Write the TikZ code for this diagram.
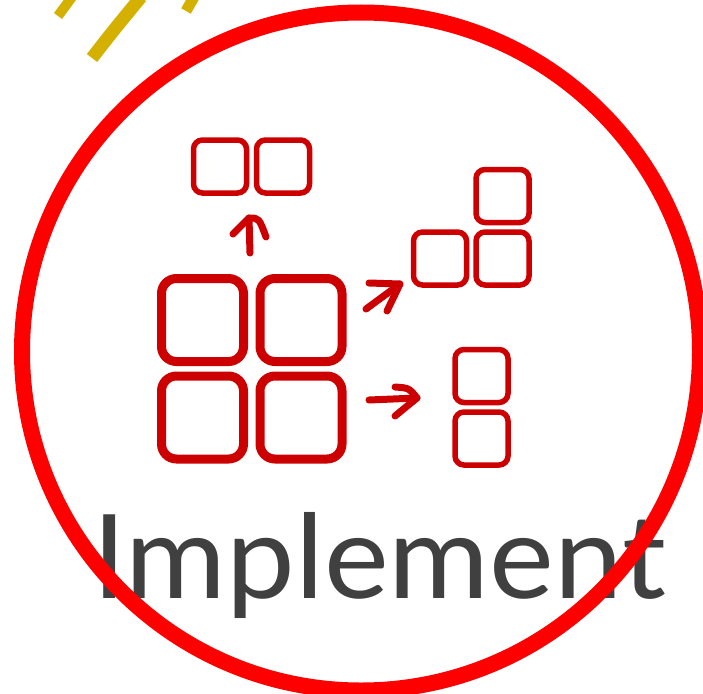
\documentclass[tikz,border=0pt]{standalone}
\usepackage{fontspec}
\usetikzlibrary{calc}
\definecolor{ringred}{RGB}{255,0,0}
\definecolor{boxred}{RGB}{204,0,0}
\definecolor{goldink}{RGB}{212,176,0}
\definecolor{ink}{RGB}{64,64,64}
\newfontfamily\handfont{Lato}
\begin{document}
\begin{tikzpicture}[x=1pt,y=-1pt,
  bigbox/.style={draw=boxred, line width=9pt, rounded corners=15pt, minimum width=82pt, minimum height=83pt, inner sep=0pt},
  smallbox/.style={draw=boxred, line width=5.5pt, rounded corners=9pt, minimum width=53pt, minimum height=53pt, inner sep=0pt},
  arrowline/.style={draw=boxred, line width=7pt, line cap=round, line join=round},
  goldstroke/.style={draw=goldink, line cap=butt},
  ring/.style={draw=ringred, line width=16pt}
]
\useasboundingbox (0,0) rectangle (703,693);

% yellow strokes
\draw[goldstroke, line width=10pt] (58,16) -- (72,-3);
\draw[goldstroke, line width=13pt] (92,58) .. controls (113,31) .. (141,-3);
\draw[goldstroke, line width=11pt] (186,11) -- (194,-3);

% big boxes
\node[bigbox] (b11) at (202.5,320) {};
\node[bigbox] (b12) at (301,320) {};
\node[bigbox] (b21) at (202.5,417.5) {};
\node[bigbox] (b22) at (301,417.5) {};

% top pair
\node[smallbox] (t1) at (220,166.5) {};
\node[smallbox] (t2) at (283,166.5) {};

% right L group
\node[smallbox] (r0) at (502.5,196) {};
\node[smallbox] (r1) at (440,258.5) {};
\node[smallbox] (r2) at (502.5,258.5) {};

% lower right column
\node[smallbox] (c1) at (481.5,376) {};
\node[smallbox] (c2) at (481.5,438.5) {};

% arrows
\coordinate (upA) at (250,253);
\coordinate (upB) at (249,218);
\draw[arrowline] (upA) -- (upB);
\draw[arrowline] ($(upB)+(-16,16)$) -- (upB) .. controls ++(10,0) .. ++(17,19);

\coordinate (dgA) at (366,309);
\coordinate (dgB) at (400,284);
\draw[arrowline] (dgA) -- (dgB);
\draw[arrowline] ($(dgB)+(-31,-1)$) -- (dgB) -- ++(-13,27);

\coordinate (hzA) at (369,400);
\coordinate (hzB) at (417,398);
\draw[arrowline] (hzA) -- (hzB);
\draw[arrowline] ($(hzB)+(-22,-11)$) .. controls ($(hzB)+(-8,-10)$) .. (hzB) -- ++(-22,18);

% label
\node[anchor=base west, text=ink, inner sep=0pt] (label) at (92,598)
  {\resizebox{573pt}{86pt}{\handfont Implement}};

% ring
\draw[ring] (361,351.5) circle[radius=339pt];
\end{tikzpicture}
\end{document}
